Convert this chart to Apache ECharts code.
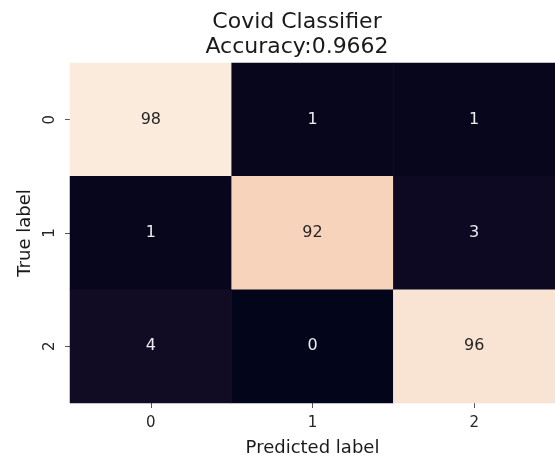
<!DOCTYPE html>
<html>
<head>
<meta charset="utf-8">
<script src="https://cdn.jsdelivr.net/npm/echarts@6/dist/echarts.min.js"></script>
<style>
html,body{margin:0;padding:0;background:#fff;}
#c{width:555px;height:462px;}
</style>
</head>
<body>
<div id="c"></div>
<script>
const predictedLabels = ['0', '1', '2'];
const trueLabels = ['0', '1', '2'];
const rowTrue0 = [98, 1, 1];
const rowTrue1 = [1, 92, 3];
const rowTrue2 = [4, 0, 96];
const titleText = 'Covid Classifier\nAccuracy:0.9662';

const rows = [rowTrue0, rowTrue1, rowTrue2];
const vMin = Math.min(...rows.flat());
const vMax = Math.max(...rows.flat());
const data = [];
rows.forEach((row, yi) => {
  row.forEach((v, xi) => {
    data.push({
      value: [xi, yi, v],
      label: { color: v > (vMin + vMax) / 2 ? '#262626' : '#ececec' }
    });
  });
});

const FONT = 'DejaVu Sans';
const chart = echarts.init(document.getElementById('c'), null, { renderer: 'canvas' });
chart.setOption({
  backgroundColor: '#ffffff',
  animation: false,
  textStyle: { fontFamily: FONT },
  title: {
    text: titleText,
    left: 292,
    top: 5,
    textAlign: 'center',
    textStyle: { fontFamily: FONT, fontSize: 22, fontWeight: 'normal', color: '#1a1a1a', lineHeight: 25 }
  },
  grid: { left: 70, top: 63, width: 487, height: 344 },
  xAxis: {
    type: 'category',
    data: predictedLabels,
    name: 'Predicted label',
    nameLocation: 'middle',
    nameGap: 36,
    nameTextStyle: { fontFamily: FONT, fontSize: 18, color: '#1a1a1a' },
    axisLine: { show: false },
    axisTick: { show: true, alignWithLabel: true, length: 5, lineStyle: { color: '#555' } },
    axisLabel: { fontFamily: FONT, fontSize: 15, color: '#262626', margin: 13 },
    splitArea: { show: false }
  },
  yAxis: {
    type: 'category',
    data: trueLabels,
    inverse: true,
    name: 'True label',
    nameLocation: 'middle',
    nameGap: 36,
    nameRotate: 90,
    nameTextStyle: { fontFamily: FONT, fontSize: 18, color: '#1a1a1a' },
    axisLine: { show: false },
    axisTick: { show: true, alignWithLabel: true, length: 5, lineStyle: { color: '#555' } },
    axisLabel: { fontFamily: FONT, fontSize: 15, color: '#262626', margin: 12, rotate: 90 },
    splitArea: { show: false }
  },
  visualMap: {
    show: false,
    min: vMin,
    max: vMax,
    dimension: 2,
    inRange: {
      color: ['#03051a', '#35193e', '#701f57', '#ad1759', '#e13342', '#f37651', '#f6b48f', '#faebdd']
    }
  },
  series: [{
    type: 'heatmap',
    data: data,
    label: { show: true, fontFamily: FONT, fontSize: 16, formatter: p => String(p.value[2]) },
    itemStyle: { borderWidth: 0 },
    emphasis: { disabled: true }
  }]
});
</script>
</body>
</html>
